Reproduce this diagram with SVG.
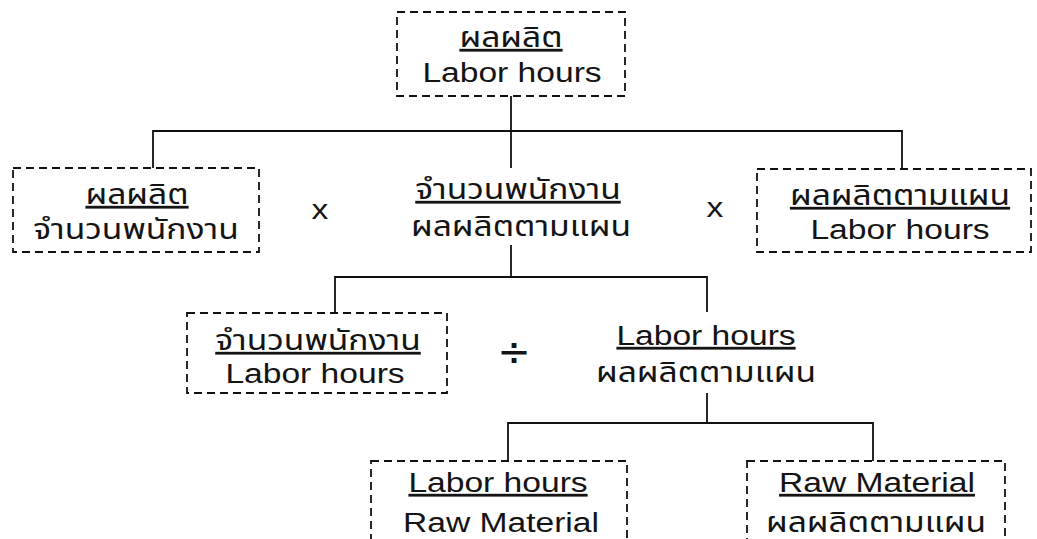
<svg xmlns="http://www.w3.org/2000/svg" width="1037" height="539" viewBox="0 0 1037 539">
  <style>
    .box { fill: none; stroke: #111; stroke-width: 1.8; stroke-dasharray: 8 5; }
    .conn { fill: none; stroke: #111; stroke-width: 1.8; }
    text { font-family: "Liberation Sans", "Noto Sans Thai", "Noto Sans", sans-serif; font-size: 28px; fill: #141414; text-anchor: middle; }
    .u { text-decoration: underline; }
    .op { font-family: "DejaVu Sans", sans-serif; font-size: 40px; }
  </style>
  <rect width="1037" height="539" fill="#ffffff"/>
  <g id="connectors">
    <path class="conn" d="M511 96 V168"/>
    <path class="conn" d="M153 168 V131 H902 V169"/>
    <path class="conn" d="M511 245 V277"/>
    <path class="conn" d="M335 313 V277 H707 V312"/>
    <path class="conn" d="M707 393 V423"/>
    <path class="conn" d="M508 461 V423 H873 V461"/>
  </g>
  <g id="node-top">
    <rect class="box" x="397" y="12" width="228" height="84"/>
    <text class="u" transform="translate(511,47) scale(1.2,1)">ผลผลิต</text>
    <text transform="translate(512,82) scale(1.2,1)">Labor hours</text>
  </g>
  <g id="node-l1-left">
    <rect class="box" x="13" y="168" width="246" height="84"/>
    <text class="u" transform="translate(137,204) scale(1.2,1)">ผลผลิต</text>
    <text transform="translate(136,239) scale(1.2,1)">จำนวนพนักงาน</text>
  </g>
  <g id="op-x1">
    <text transform="translate(320,219) scale(1.2,1)">x</text>
  </g>
  <g id="node-l1-mid">
    <text class="u" transform="translate(518,199) scale(1.2,1)">จำนวนพนักงาน</text>
    <text transform="translate(521,236) scale(1.2,1)">ผลผลิตตามแผน</text>
  </g>
  <g id="op-x2">
    <text transform="translate(715,217) scale(1.2,1)">x</text>
  </g>
  <g id="node-l1-right">
    <rect class="box" x="757" y="169" width="274" height="83"/>
    <text class="u" transform="translate(900,205) scale(1.2,1)">ผลผลิตตามแผน</text>
    <text transform="translate(900,239) scale(1.2,1)">Labor hours</text>
  </g>
  <g id="node-l2-left">
    <rect class="box" x="187" y="313" width="260" height="80"/>
    <text class="u" transform="translate(318,350) scale(1.2,1)">จำนวนพนักงาน</text>
    <text transform="translate(315,383) scale(1.2,1)">Labor hours</text>
  </g>
  <g id="op-div">
    <text class="op" x="514" y="365">÷</text>
  </g>
  <g id="node-l2-right">
    <text class="u" transform="translate(706,345) scale(1.2,1)">Labor hours</text>
    <text transform="translate(706,382) scale(1.2,1)">ผลผลิตตามแผน</text>
  </g>
  <g id="node-l3-left">
    <rect class="box" x="371" y="461" width="256" height="90"/>
    <text class="u" transform="translate(498,492) scale(1.2,1)">Labor hours</text>
    <text transform="translate(501,532) scale(1.2,1)">Raw Material</text>
  </g>
  <g id="node-l3-right">
    <rect class="box" x="747" y="461" width="258" height="90"/>
    <text class="u" transform="translate(877,492) scale(1.2,1)">Raw Material</text>
    <text transform="translate(876,532) scale(1.2,1)">ผลผลิตตามแผน</text>
  </g>
</svg>
